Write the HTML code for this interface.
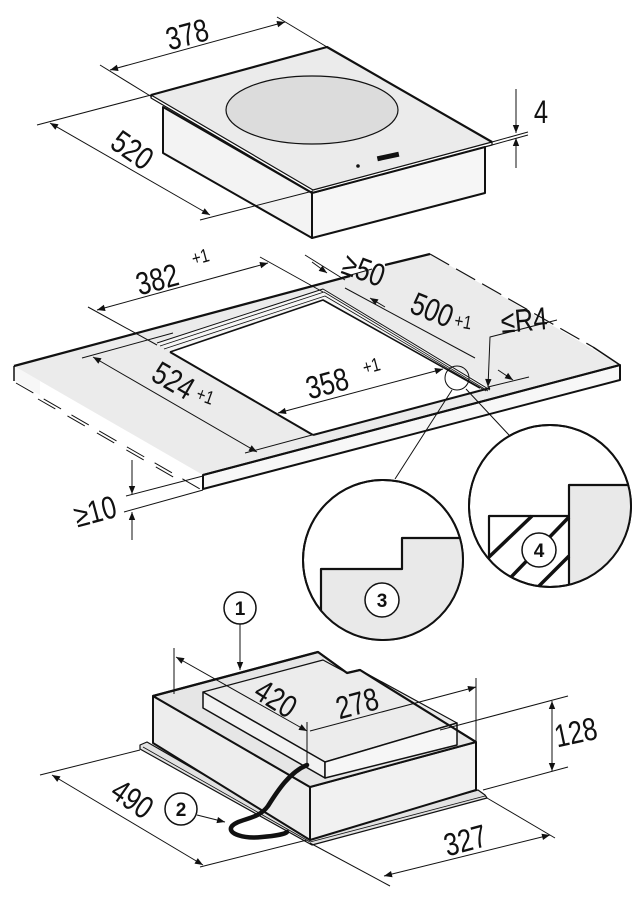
<!DOCTYPE html>
<html><head><meta charset="utf-8"><style>
html,body{margin:0;padding:0;background:#fff}
svg{display:block}
text{font-family:"Liberation Sans",sans-serif;fill:#111}
</style></head><body>
<svg width="644" height="900" viewBox="0 0 644 900" xmlns="http://www.w3.org/2000/svg">
<defs>
<marker id="a" viewBox="0 0 10 10" refX="10" refY="5" markerWidth="12" markerHeight="8" markerUnits="userSpaceOnUse" orient="auto-start-reverse"><path d="M0,1 L10,5 L0,9 z" fill="#111"/></marker>
<clipPath id="c3"><circle cx="383" cy="560" r="80"/></clipPath>
<clipPath id="c4"><circle cx="550" cy="506" r="81"/></clipPath>
</defs>
<g stroke="#111" fill="none" stroke-linejoin="round">

<!-- ===== TOP HOB ===== -->
<polygon points="163,107 312,193 312,238 163,153" fill="#f3f3f3" stroke-width="2"/>
<polygon points="312,193 485,147 485,193 312,238" fill="#f6f6f6" stroke-width="2"/>
<polygon points="151,95 327,47 492,142 313,190" fill="#ebebeb" stroke-width="1.2"/>
<polyline points="151,95 327,47 492,142" stroke-width="2.2"/>
<polyline points="151,95 151,98 313,193 492,145 492,142" stroke-width="1.2"/>
<ellipse cx="312" cy="110" rx="86" ry="34" fill="#dcdcdc" stroke-width="1.2"/>
<circle cx="358" cy="166" r="1.3" fill="#111"/>
<rect x="377" y="154" width="22" height="5" fill="#111" stroke="none" transform="rotate(-12 388 156)"/>
<line x1="100" y1="65" x2="152" y2="97" stroke-width="1"/>
<line x1="277" y1="17" x2="327" y2="47" stroke-width="1"/>
<line x1="110" y1="70" x2="285" y2="22" stroke-width="1" marker-start="url(#a)" marker-end="url(#a)"/>
<line x1="37" y1="125" x2="151" y2="95" stroke-width="1"/>
<line x1="200" y1="220" x2="313" y2="191" stroke-width="1"/>
<line x1="50" y1="123" x2="210" y2="215" stroke-width="1" marker-start="url(#a)" marker-end="url(#a)"/>
<line x1="492" y1="142" x2="528" y2="132" stroke-width="1"/>
<line x1="492" y1="145" x2="528" y2="135" stroke-width="1"/>
<line x1="516" y1="89" x2="516" y2="133" stroke-width="1" marker-end="url(#a)"/>
<line x1="516" y1="168" x2="516" y2="138" stroke-width="1" marker-end="url(#a)"/>

<!-- ===== COUNTERTOP ===== -->
<polygon points="14,366 430,254 620,365 203,475" fill="#ebebeb" stroke="none"/>
<polygon points="203,475 620,365 620,380 203,489" fill="#f7f7f7" stroke-width="2"/>
<polygon points="14,366 14,380 40,395 40,381" fill="#f7f7f7" stroke="none"/>
<line x1="14" y1="366" x2="14" y2="381" stroke-width="1.5"/>
<polyline points="14,366 350,276" stroke-width="2.2"/>
<line x1="385" y1="265" x2="430" y2="254" stroke-width="2.2"/>
<line x1="430" y1="254" x2="593" y2="347" stroke-width="1.2" stroke-dasharray="22,8"/>
<line x1="593" y1="347" x2="620" y2="365" stroke-width="1.6"/>
<line x1="620" y1="365" x2="620" y2="380" stroke-width="1.6"/>
<line x1="16" y1="383" x2="200" y2="489" stroke-width="1" stroke-dasharray="20,12"/>
<line x1="38" y1="399" x2="175" y2="478" stroke-width="1" stroke-dasharray="20,14"/>
<polygon points="157,343 323,289 490,388 313,436" fill="#f6f6f6" stroke="none"/>
<polygon points="170,352 323,300 483,388 313,435" fill="#fff" stroke="none"/>
<polyline points="157,343 323,289 490,390" stroke-width="1"/>
<polyline points="160,346 324,292 488,391" stroke-width="0.8"/>
<polyline points="164,349 325,296 486,391" stroke-width="0.8"/>
<polyline points="170,352 323,300 480,388" stroke-width="1.6"/>
<line x1="170" y1="352" x2="313" y2="435" stroke-width="2"/>
<line x1="313" y1="435" x2="490" y2="388" stroke-width="2"/>
<line x1="203" y1="475" x2="620" y2="365" stroke-width="2"/>
<line x1="203" y1="475" x2="203" y2="489" stroke-width="1.5"/>
<line x1="88" y1="307" x2="157" y2="345" stroke-width="1"/>
<line x1="260" y1="257" x2="323" y2="292" stroke-width="1"/>
<line x1="97" y1="310" x2="268" y2="263" stroke-width="1" marker-start="url(#a)" marker-end="url(#a)"/>
<line x1="305" y1="255" x2="345" y2="280" stroke-width="1"/>
<line x1="345" y1="288" x2="475" y2="358" stroke-width="1"/>
<line x1="312" y1="262" x2="327" y2="273" stroke-width="1" marker-end="url(#a)"/>
<line x1="385" y1="307" x2="370" y2="298" stroke-width="1" marker-end="url(#a)"/>
<line x1="340" y1="278" x2="372" y2="269" stroke-width="1"/>
<polyline points="557,320 490,337 488,387" stroke-width="1" marker-end="url(#a)"/>
<line x1="488" y1="387" x2="529" y2="377" stroke-width="1"/>
<line x1="498" y1="370" x2="513" y2="380" stroke-width="1" marker-end="url(#a)"/>
<line x1="278" y1="413" x2="443" y2="369" stroke-width="1" marker-start="url(#a)" marker-end="url(#a)"/>
<line x1="82" y1="358" x2="173" y2="333" stroke-width="1"/>
<line x1="245" y1="453" x2="312" y2="435" stroke-width="1"/>
<line x1="93" y1="357" x2="257" y2="452" stroke-width="1" marker-start="url(#a)" marker-end="url(#a)"/>
<line x1="132" y1="460" x2="132" y2="494" stroke-width="1" marker-end="url(#a)"/>
<line x1="132" y1="540" x2="132" y2="512" stroke-width="1" marker-end="url(#a)"/>
<line x1="126" y1="496" x2="203" y2="476" stroke-width="1"/>
<line x1="124" y1="512" x2="203" y2="490" stroke-width="1"/>
<circle cx="457" cy="378" r="12" stroke-width="1"/>
<line x1="452" y1="390" x2="395" y2="479" stroke-width="1"/>
<line x1="466" y1="389" x2="509" y2="435" stroke-width="1"/>

<!-- detail 3 -->
<circle cx="383" cy="560" r="80" fill="#fff" stroke-width="2"/>
<g clip-path="url(#c3)">
<polygon points="321,650 321,569 402,569 402,538 470,538 470,650" fill="#e9e9e9" stroke="none"/>
<polyline points="321,650 321,569 402,569 402,538 470,538" stroke-width="2.2"/>
</g>
<circle cx="383" cy="560" r="80" stroke-width="2"/>
<circle cx="382" cy="600" r="17" fill="#fff" stroke-width="1.5"/>
<!-- detail 4 -->
<circle cx="550" cy="506" r="81" fill="#fff" stroke-width="2"/>
<g clip-path="url(#c4)">
<polygon points="569,600 569,485 640,485 640,600" fill="#e9e9e9" stroke="none"/>
<polyline points="569,600 569,485 640,485" stroke-width="2.2"/>
<polyline points="489,600 489,516 569,516" stroke-width="2.2"/>
<line x1="489" y1="557" x2="532" y2="516" stroke-width="3.5"/>
<line x1="489" y1="600" x2="569" y2="517" stroke-width="3.5"/>
<line x1="525" y1="600" x2="569" y2="556" stroke-width="3.5"/>
</g>
<circle cx="550" cy="506" r="81" stroke-width="2"/>
<circle cx="539" cy="550" r="17" fill="#fff" stroke-width="1.5"/>

<!-- ===== BOTTOM BOX ===== -->
<polygon points="140,745 147,742 310,836 478,790 485,795 487,798 312,845 140,749" fill="#e2e2e2" stroke-width="1.2"/>
<line x1="143" y1="747" x2="310" y2="842" stroke-width="0.8"/>
<line x1="310" y1="842" x2="485" y2="796" stroke-width="0.8"/>
<polygon points="153,696 310,787 310,840 153,743" fill="#ededed" stroke-width="2"/>
<polygon points="310,787 476,742 476,790 310,840" fill="#f1f1f1" stroke-width="2"/>
<polygon points="153,696 318,652 347,673 360,670 476,742 310,787" fill="#e6e6e6" stroke-width="2"/>
<polygon points="203,692 323,660 347,673 360,670 457,723 325,762" fill="#ececec" stroke-width="1.2"/>
<polygon points="203,692 325,762 325,778 203,708" fill="#f2f2f2" stroke-width="1.5"/>
<polygon points="325,762 457,723 457,745 325,778" fill="#f6f6f6" stroke-width="1.5"/>
<polyline points="153,696 318,652 347,673 360,670 476,742" stroke-width="2.2"/>
<path d="M307,765 C290,772 278,790 268,806 C258,820 240,818 232,826 C226,834 245,839 262,837 C275,836 285,834 287,832" stroke-width="4.5" stroke-linecap="round"/>
<line x1="174" y1="648" x2="174" y2="694" stroke-width="1"/>
<line x1="307" y1="722" x2="307" y2="765" stroke-width="1"/>
<line x1="176" y1="657" x2="307" y2="731" stroke-width="1" marker-start="url(#a)" marker-end="url(#a)"/>
<line x1="476" y1="678" x2="476" y2="742" stroke-width="1"/>
<line x1="310" y1="731" x2="476" y2="687" stroke-width="1" marker-end="url(#a)"/>
<line x1="440" y1="730" x2="568" y2="696" stroke-width="1"/>
<line x1="483" y1="790" x2="568" y2="767" stroke-width="1"/>
<line x1="552" y1="701" x2="552" y2="771" stroke-width="1" marker-start="url(#a)" marker-end="url(#a)"/>
<line x1="40" y1="775" x2="140" y2="750" stroke-width="1"/>
<line x1="200" y1="867" x2="307" y2="840" stroke-width="1"/>
<line x1="52" y1="775" x2="203" y2="865" stroke-width="1" marker-start="url(#a)" marker-end="url(#a)"/>
<line x1="310" y1="843" x2="390" y2="886" stroke-width="1"/>
<line x1="487" y1="798" x2="555" y2="838" stroke-width="1"/>
<line x1="384" y1="876" x2="550" y2="835" stroke-width="1" marker-start="url(#a)" marker-end="url(#a)"/>
<circle cx="240" cy="608" r="16" fill="#fff" stroke-width="1.5"/>
<line x1="240" y1="624" x2="240" y2="670" stroke-width="1" marker-end="url(#a)"/>
<circle cx="181" cy="809" r="16" fill="#fff" stroke-width="1.5"/>
<line x1="197" y1="815" x2="225" y2="822" stroke-width="1" marker-end="url(#a)"/>
</g>

<!-- ===== TEXT ===== -->
<g font-size="32" text-anchor="middle">
<text transform="translate(190,45) rotate(-15) scale(0.8,1)">378</text>
<text transform="translate(126,159) rotate(35) scale(0.8,1)">520</text>
<text transform="translate(541,123) scale(0.8,1)">4</text>
<text transform="translate(160,290) rotate(-15) scale(0.8,1)">382</text>
<text transform="translate(360,280) rotate(20) scale(0.8,1)">≥50</text>
<text transform="translate(428,320) rotate(22) scale(0.8,1)">500</text>
<text transform="translate(525,331) rotate(-5) scale(0.8,1)">≤R4</text>
<text transform="translate(330,394) rotate(-15) scale(0.8,1)">358</text>
<text transform="translate(168,390) rotate(30) scale(0.8,1)">524</text>
<text transform="translate(98,522) rotate(-15) scale(0.8,1)">≥10</text>
<text transform="translate(270,708) rotate(32) scale(0.8,1)">420</text>
<text transform="translate(360,714) rotate(-15) scale(0.8,1)">278</text>
<text transform="translate(578,743) rotate(-12) scale(0.8,1)">128</text>
<text transform="translate(126,808) rotate(35) scale(0.8,1)">490</text>
<text transform="translate(468,851) rotate(-15) scale(0.8,1)">327</text>
</g>
<g font-size="19" text-anchor="middle">
<text transform="translate(202,263) rotate(-15) scale(0.8,1)">+1</text>
<text transform="translate(462,328) rotate(10) scale(0.8,1)">+1</text>
<text transform="translate(373,372) rotate(-15) scale(0.8,1)">+1</text>
<text transform="translate(203,402) rotate(20) scale(0.8,1)">+1</text>
</g>
<g font-size="19" font-weight="bold" text-anchor="middle">
<text x="382" y="607">3</text>
<text x="539" y="557">4</text>
<text x="240" y="615">1</text>
<text x="181" y="816">2</text>
</g>
</svg>
</body></html>
